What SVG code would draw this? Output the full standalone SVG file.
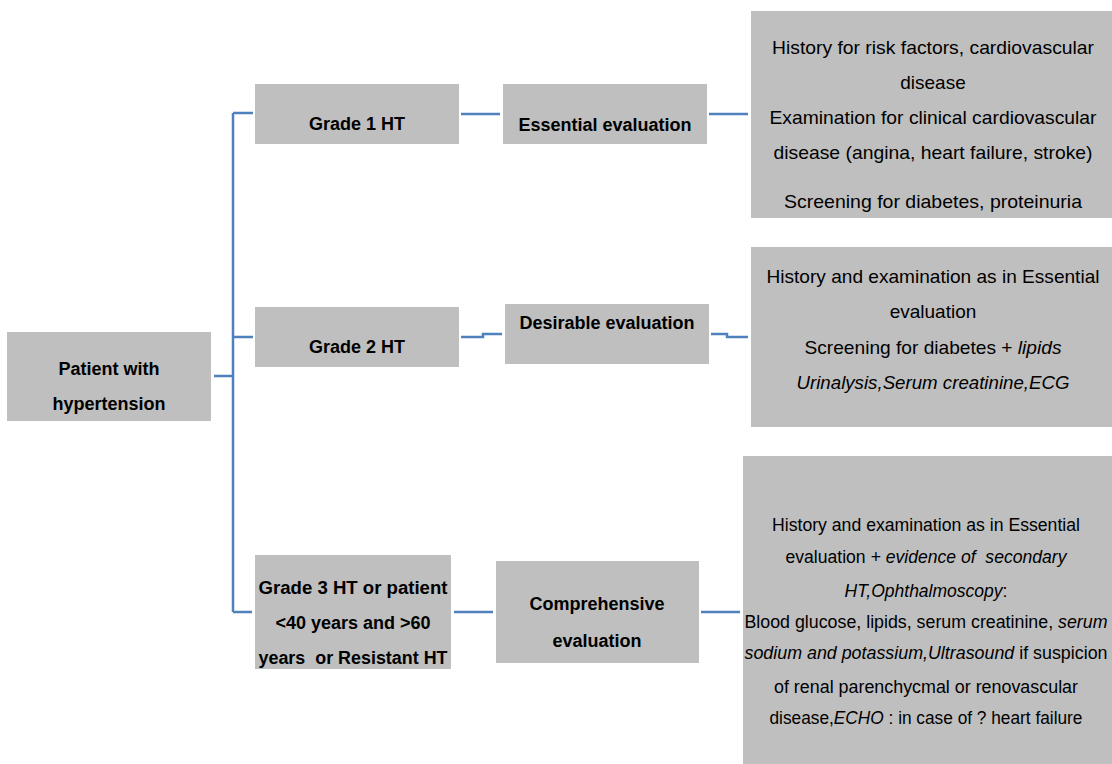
<svg xmlns="http://www.w3.org/2000/svg" width="1112" height="764" viewBox="0 0 1112 764">
<style>
.box{fill:#BFBFBF;}
.lbl{font-family:"Liberation Sans",Arial,sans-serif;font-size:18px;font-weight:bold;fill:#000;text-anchor:middle;}
.txt{font-family:"Liberation Sans",Arial,sans-serif;font-size:19px;fill:#000;text-anchor:middle;}
.sm{font-family:"Liberation Sans",Arial,sans-serif;font-size:17.5px;fill:#000;text-anchor:middle;}
.it{font-style:italic;}
.con{fill:none;stroke:#4F81BD;stroke-width:2.5;}
</style>
<rect width="1112" height="764" fill="#fff"/>
<g id="connectors">
<path class="con" d="M214,376 H233 M233,113 V612 M233,113 H253 M233,337 H253 M233,612 H252"/>
<path class="con" d="M461,114 H500 M709,114 H748"/>
<path class="con" d="M461,337 H483 V334 H502 M711,334 H727 V337 H748"/>
<path class="con" d="M454,612 H493 M701,612 H740"/>
</g>
<g id="patient">
<rect class="box" x="7" y="332" width="204" height="89"/>
<text class="lbl" x="109" y="375">Patient with</text>
<text class="lbl" x="109" y="410">hypertension</text>
</g>
<g id="grade1">
<rect class="box" x="255" y="84" width="204" height="60"/>
<text class="lbl" x="357" y="130">Grade 1 HT</text>
</g>
<g id="grade2">
<rect class="box" x="255" y="307" width="204" height="60"/>
<text class="lbl" x="357" y="353">Grade 2 HT</text>
</g>
<g id="grade3">
<rect class="box" x="255" y="555" width="196" height="114"/>
<text class="lbl" x="353" y="594" textLength="189" lengthAdjust="spacingAndGlyphs">Grade 3 HT or patient</text>
<text class="lbl" x="353" y="629">&lt;40 years and &gt;60</text>
<text class="lbl" x="353" y="664" xml:space="preserve" textLength="189" lengthAdjust="spacingAndGlyphs">years  or Resistant HT</text>
</g>
<g id="essential">
<rect class="box" x="503" y="84" width="204" height="60"/>
<text class="lbl" x="605" y="131">Essential evaluation</text>
</g>
<g id="desirable">
<rect class="box" x="505" y="304" width="204" height="60"/>
<text class="lbl" x="607" y="329">Desirable evaluation</text>
</g>
<g id="comprehensive">
<rect class="box" x="496" y="561" width="203" height="102"/>
<text class="lbl" x="597" y="610">Comprehensive</text>
<text class="lbl" x="597" y="647">evaluation</text>
</g>
<g id="essential-details">
<rect class="box" x="751" y="11" width="361" height="207"/>
<text class="txt" x="933" y="54" textLength="322" lengthAdjust="spacingAndGlyphs">History for risk factors, cardiovascular</text>
<text class="txt" x="933" y="89">disease</text>
<text class="txt" x="933" y="124" textLength="327" lengthAdjust="spacingAndGlyphs">Examination for clinical cardiovascular</text>
<text class="txt" x="933" y="159" textLength="319" lengthAdjust="spacingAndGlyphs">disease (angina, heart failure, stroke)</text>
<text class="txt" x="933" y="208" textLength="298" lengthAdjust="spacingAndGlyphs">Screening for diabetes, proteinuria</text>
</g>
<g id="desirable-details">
<rect class="box" x="751" y="247" width="361" height="180"/>
<text class="txt" x="933" y="283" textLength="333" lengthAdjust="spacingAndGlyphs">History and examination as in Essential</text>
<text class="txt" x="933" y="318">evaluation</text>
<text class="txt" x="933" y="354" textLength="257" lengthAdjust="spacingAndGlyphs">Screening for diabetes + <tspan class="it">lipids</tspan></text>
<text class="txt it" x="933" y="389" textLength="273" lengthAdjust="spacingAndGlyphs">Urinalysis,Serum creatinine,ECG</text>
</g>
<g id="comprehensive-details">
<rect class="box" x="743" y="456" width="369" height="308"/>
<text class="sm" x="926" y="531" textLength="308" lengthAdjust="spacingAndGlyphs">History and examination as in Essential</text>
<text class="sm" x="926" y="563" xml:space="preserve" textLength="281" lengthAdjust="spacingAndGlyphs">evaluation <tspan class="it">+ evidence of  secondary</tspan></text>
<text class="sm" x="926" y="597"><tspan class="it">HT,Ophthalmoscopy</tspan>:</text>
<text class="sm" x="926" y="628" textLength="363" lengthAdjust="spacingAndGlyphs">Blood glucose, lipids, serum creatinine, <tspan class="it">serum</tspan></text>
<text class="sm" x="926" y="659" textLength="363" lengthAdjust="spacingAndGlyphs"><tspan class="it">sodium and potassium,Ultrasound</tspan> if suspicion</text>
<text class="sm" x="926" y="693" textLength="304" lengthAdjust="spacingAndGlyphs">of renal parenchycmal or renovascular</text>
<text class="sm" x="926" y="724" textLength="313" lengthAdjust="spacingAndGlyphs">disease,<tspan class="it">ECHO</tspan> : in case of ? heart failure</text>
</g>
</svg>
